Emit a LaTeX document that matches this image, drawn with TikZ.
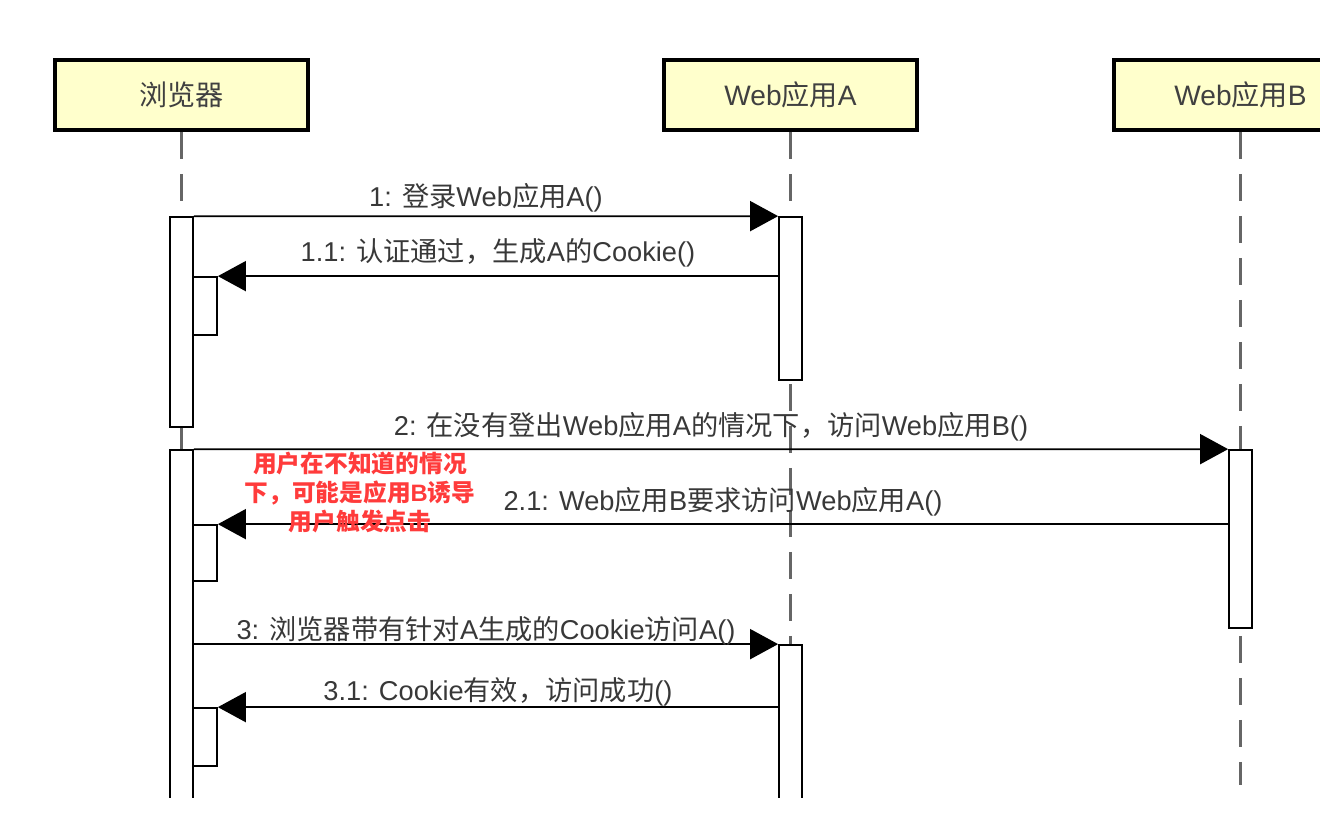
\documentclass[tikz,border=0pt]{standalone}
\usepackage{fontspec}
\setmainfont{Liberation Sans}
\newfontfamily\cjk{Noto Sans CJK SC}
\newcommand{\zh}[1]{{\cjk #1}}
\usepackage{tikz}
\usetikzlibrary{arrows.meta}
\definecolor{headfill}{HTML}{FFFFCC}
\definecolor{notered}{HTML}{FF3B3B}

\begin{document}
\begin{tikzpicture}[
    x=0.2mm, y=-0.2mm,
    font=\fontsize{15.5}{18}\selectfont,
    header/.style={draw, line width=2.2pt, fill=headfill, minimum width=5.06cm, minimum height=1.4cm, text=black!75, font=\fontsize{16}{19}\selectfont},
    lifeline/.style={draw=black!60, line width=1.3pt, dash pattern=on 0.54cm off 0.3cm},
    actbar/.style={draw, fill=white, line width=1pt, minimum width=0.46cm, inner sep=0pt},
    nested/.style={draw, fill=white, line width=1pt, minimum width=0.48cm, inner sep=0pt},
    msg/.style={-{Triangle[length=5.6mm,width=6mm]}, line width=1pt},
    msglabel/.style={text=black!78, inner sep=0pt, anchor=base},
    note/.style={text=notered, align=center, font=\fontsize{13.5}{16.5}\selectfont\bfseries}
]
\useasboundingbox (0,0) rectangle (1320,816);
\clip (0,0) rectangle (1320,797);

% ---- Lifeline heads ----
\node[header] (browser) at (181.5,95) {\zh{浏览器}};
\node[header] (appa) at (790.5,95) {Web\zh{应用}A};
\node[header] (appb) at (1240.5,95) {Web\zh{应用}B};

% ---- Lifelines ----
\coordinate (browserend) at (181.5,810);
\coordinate (appaend) at (790.5,810);
\coordinate (appbend) at (1240.5,785);
\draw[lifeline] (browser.south) -- (browserend);
\draw[lifeline] (appa.south) -- (appaend);
\draw[lifeline] (appb.south) -- (appbend);

% ---- Activation bars ----
\node[actbar, minimum height=4.2cm] (brbar1) at (181.5,322) {};
\node[actbar, minimum height=7.2cm] (brbar2) at (181.5,630) {};
\node[actbar, minimum height=3.26cm] (abar1) at (790.5,298.5) {};
\node[actbar, minimum height=3.3cm] (abar2) at (790.5,727.5) {};
\node[actbar, minimum height=3.56cm] (bbar) at (1240.5,539) {};
\node[nested, minimum height=1.16cm] (nest1) at (205,306) {};
\node[nested, minimum height=1.12cm] (nest2) at (205,553) {};
\node[nested, minimum height=1.16cm] (nest3) at (205,737) {};

% ---- Messages ----
\draw[msg] (brbar1.north east) -- node[msglabel, yshift=2mm] {1: \zh{登录}Web\zh{应用}A()} (abar1.north west);
\draw[msg] (abar1.west |- nest1.north) -- node[msglabel, yshift=3mm] {1.1: \zh{认证通过，生成}A\zh{的}Cookie()} (nest1.north east);
\draw[msg] (brbar2.north east) -- node[msglabel, yshift=2.8mm] {2: \zh{在没有登出}Web\zh{应用}A\zh{的情况下，访问}Web\zh{应用}B()} (bbar.north west);
\draw[msg] (bbar.west |- nest2.north) -- node[msglabel, yshift=2.8mm] {2.1: Web\zh{应用}B\zh{要求访问}Web\zh{应用}A()} (nest2.north east);
\draw[msg] (brbar2.east |- abar2.north) -- node[msglabel, yshift=1mm] {3: \zh{浏览器带有针对}A\zh{生成的}Cookie\zh{访问}A()} (abar2.north west);
\draw[msg] (abar2.west |- nest3.north) -- node[msglabel, yshift=1.4mm] {3.1: Cookie\zh{有效，访问成功}()} (nest3.north east);

% ---- Red remark ----
\node[note] (remark) at (360,492) {\zh{用户在不知道的情况}\\\zh{下，可能是应用}B\zh{诱导}\\\zh{用户触发点击}};

\end{tikzpicture}
\end{document}
